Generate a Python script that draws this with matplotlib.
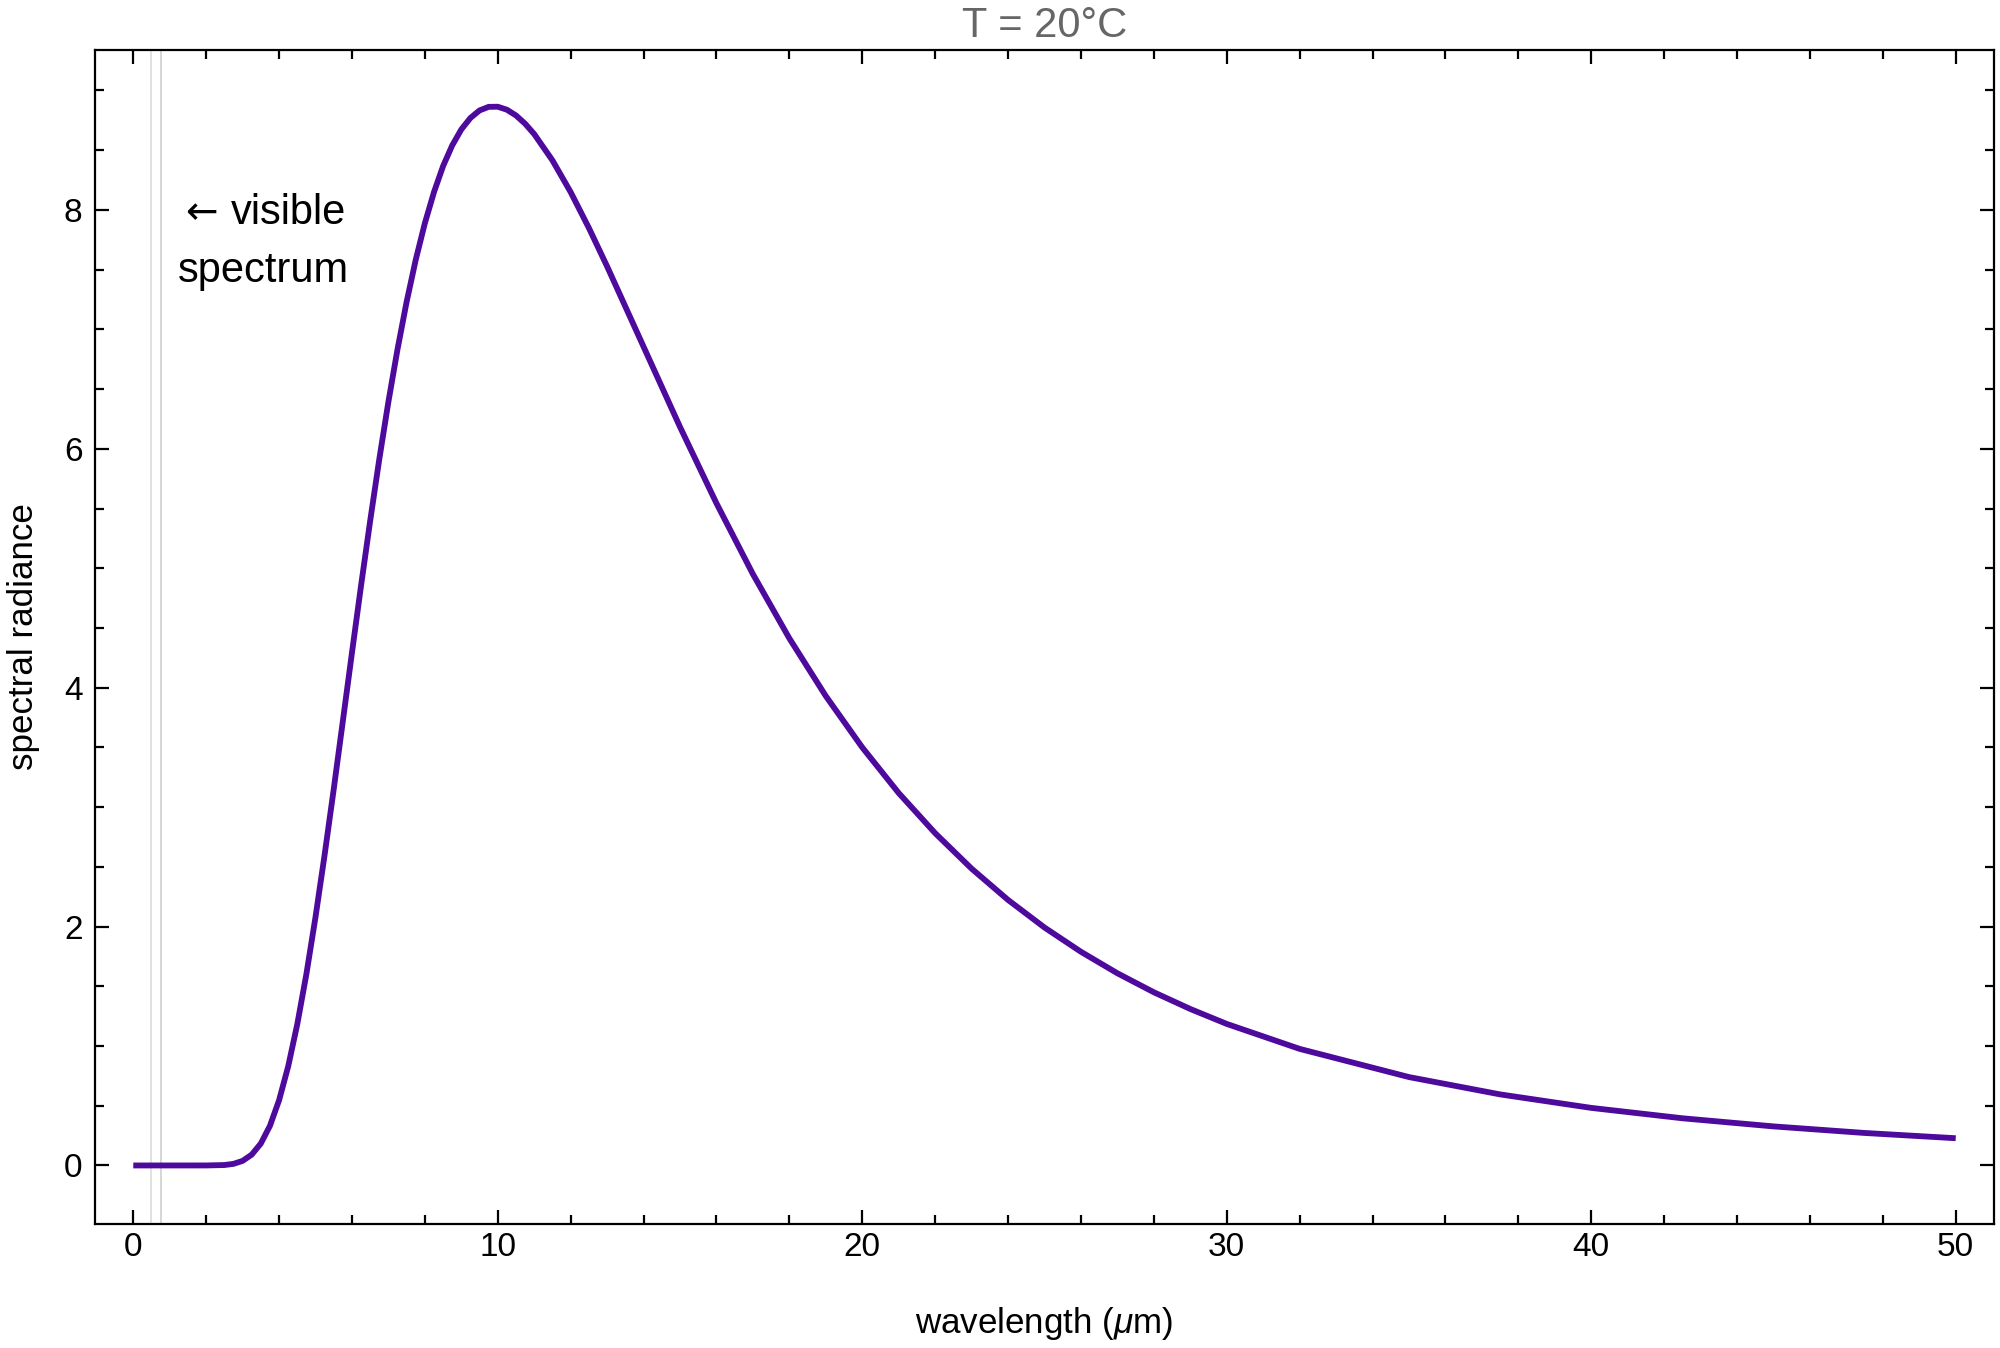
import matplotlib
matplotlib.use("Agg")
import matplotlib.pyplot as plt
from matplotlib.ticker import MultipleLocator

plt.rcParams["font.family"] = ["Liberation Sans", "DejaVu Sans"]
plt.rcParams["mathtext.fontset"] = "custom"
plt.rcParams["mathtext.rm"] = "Liberation Sans"
plt.rcParams["mathtext.it"] = "Liberation Sans:italic"

# ── data (wavelength in µm, radiance) ─────────────────────────────────────
wavelength = [0, 1, 2, 2.5, 2.75, 3, 3.25, 3.5, 3.75, 4, 4.25, 4.5, 4.75,
              5, 5.25, 5.5, 5.75, 6, 6.25, 6.5, 6.75, 7, 7.25, 7.5, 7.75,
              8, 8.25, 8.5, 8.75, 9, 9.25, 9.5, 9.75, 10, 10.25, 10.5, 10.75,
              11, 11.5, 12, 12.5, 13, 14, 15, 16, 17, 18, 19, 20, 21, 22,
              23, 24, 25, 26, 27, 28, 29, 30, 32, 35, 37.5, 40, 42.5, 45,
              47.5, 50]
radiance = [0.0, 0.0, 0.0001, 0.0036, 0.0134, 0.0385, 0.0907, 0.184, 0.332,
            0.546, 0.829, 1.183, 1.603, 2.080, 2.601, 3.151, 3.721, 4.293,
            4.856, 5.398, 5.914, 6.394, 6.834, 7.231, 7.583, 7.889, 8.149,
            8.367, 8.540, 8.674, 8.770, 8.833, 8.863, 8.864, 8.839, 8.791,
            8.722, 8.635, 8.415, 8.149, 7.849, 7.527, 6.855, 6.183, 5.544,
            4.951, 4.413, 3.930, 3.500, 3.118, 2.782, 2.485, 2.223, 1.992,
            1.789, 1.609, 1.450, 1.310, 1.185, 0.976, 0.740, 0.595, 0.482,
            0.395, 0.327, 0.272, 0.228]

visible_edges = [0.48, 0.77]          # visible spectrum bounds (µm)
visible_colors = ["#dcdcdc", "#cfcfcf"]

LINE_COLOR = "#4d0a9c"
TITLE_GRAY = "#666666"

fig = plt.figure(figsize=(10, 6.74), dpi=200)
ax = fig.add_axes([0.0475, 0.092, 0.9495, 0.871])

for xv, c in zip(visible_edges, visible_colors):
    ax.axvline(xv, color=c, lw=0.6, zorder=1)

ax.plot(wavelength, radiance, color=LINE_COLOR, lw=2.1,
        solid_capstyle="butt", zorder=3)

# annotation: arrow in DejaVu (bigger glyph), words in Liberation Sans
ax.text(2.33, 7.88, "←", ha="right", va="baseline", fontsize=14,
        family="DejaVu Sans")
ax.text(2.69, 7.88, "visible", ha="left", va="baseline", fontsize=15)
ax.text(3.56, 7.40, "spectrum", ha="center", va="baseline", fontsize=15)

ax.set_xlim(-1.05, 51.05)
ax.set_ylim(-0.49, 9.34)

ax.xaxis.set_major_locator(MultipleLocator(10))
ax.xaxis.set_minor_locator(MultipleLocator(2))
ax.yaxis.set_major_locator(MultipleLocator(2))
ax.yaxis.set_minor_locator(MultipleLocator(0.5))

ax.tick_params(which="both", direction="in", top=True, right=True,
               width=0.8, colors="black")
ax.tick_params(which="major", length=5)
ax.tick_params(which="minor", length=3.3)
ax.tick_params(axis="x", which="major", pad=3, labelsize=12)
ax.tick_params(axis="y", which="major", pad=4.5, labelsize=12)

for sp in ax.spines.values():
    sp.set_linewidth(0.8)

ax.set_xlabel(r"wavelength ($\mu$m)", fontsize=12.6, labelpad=15)
ax.set_ylabel("spectral radiance", fontsize=12.6, labelpad=8.5)
ax.set_title("T = 20°C", fontsize=15, color=TITLE_GRAY, pad=4.5)

fig.savefig("out.png", dpi=200, facecolor="white")
plt.close(fig)
